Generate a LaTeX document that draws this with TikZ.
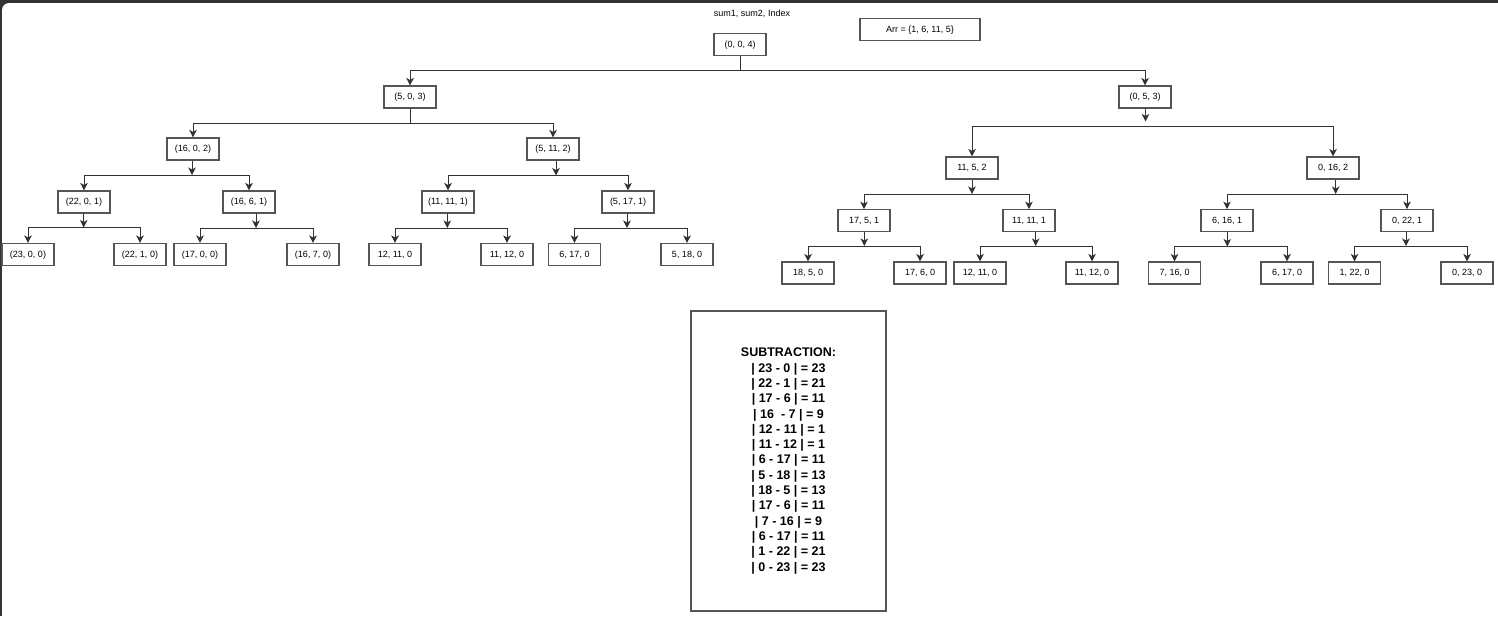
\documentclass[tikz,border=0pt]{standalone}
\usepackage{fontspec}
\setmainfont{Liberation Sans}
\usetikzlibrary{arrows.meta}
\definecolor{framecol}{RGB}{51,51,51}
\definecolor{boxline}{RGB}{85,85,85}
\definecolor{conncol}{RGB}{50,50,50}
\begin{document}
\begin{tikzpicture}[x=1pt,y=-1pt,
  box/.style={draw=boxline, line width=1.1pt, fill=white, minimum width=52pt, minimum height=22pt, inner sep=0pt, text height=6.5pt, text depth=1.5pt, font=\fontsize{9}{11}\selectfont},
  line/.style={draw=conncol, line width=1pt},
  arr/.style={line, -{Stealth[length=7.5pt,width=7.5pt,inset=2pt]}},
  subbox/.style={draw=boxline, line width=1.1pt, minimum width=195pt, minimum height=300pt, inner sep=0pt, align=center, font=\fontsize{12.5}{15.3}\selectfont\bfseries},
]
\useasboundingbox (0,0) rectangle (1498,616);
\fill[framecol] (0,0) rectangle (1498,616);
\fill[white, rounded corners=7pt] (2,3) rectangle (1530,650);

% header
\node[font=\fontsize{9}{11}\selectfont] (title) at (752,14) {sum1, sum2, Index};
\node[box, minimum width=120pt] (arrbox) at (920,29.5) {Arr = \{1, 6, 11, 5\}};

% nodes
\node[box] (root) at (740,44.5) {(0, 0, 4)};
\node[box] (a) at (410,97) {(5, 0, 3)};
\node[box] (b) at (1145,97) {(0, 5, 3)};

\node[box] (aa) at (193,149) {(16, 0, 2)};
\node[box] (ab) at (553,149) {(5, 11, 2)};
\node[box] (aaa) at (84,202) {(22, 0, 1)};
\node[box] (aab) at (249,202) {(16, 6, 1)};
\node[box] (aba) at (448,202) {(11, 11, 1)};
\node[box] (abb) at (628,202) {(5, 17, 1)};
\node[box] (l1) at (28,254.5) {(23, 0, 0)};
\node[box] (l2) at (140,254.5) {(22, 1, 0)};
\node[box] (l3) at (200,254.5) {(17, 0, 0)};
\node[box] (l4) at (313,254.5) {(16, 7, 0)};
\node[box] (l5) at (395,254.5) {12, 11, 0};
\node[box] (l6) at (507,254.5) {11, 12, 0};
\node[box] (l7) at (574.5,254.5) {6, 17, 0};
\node[box] (l8) at (687,254.5) {5, 18, 0};

\node[box] (ba) at (972,168) {11, 5, 2};
\node[box] (bb) at (1333,168) {0, 16, 2};
\node[box] (baa) at (864,220.7) {17, 5, 1};
\node[box] (bab) at (1029,220.7) {11, 11, 1};
\node[box] (bba) at (1227,220.7) {6, 16, 1};
\node[box] (bbb) at (1407,220.7) {0, 22, 1};
\node[box] (r1) at (808,273) {18, 5, 0};
\node[box] (r2) at (920,273) {17, 6, 0};
\node[box] (r3) at (980,273) {12, 11, 0};
\node[box] (r4) at (1092,273) {11, 12, 0};
\node[box] (r5) at (1174.5,273) {7, 16, 0};
\node[box] (r6) at (1287,273) {6, 17, 0};
\node[box] (r7) at (1354.5,273) {1, 22, 0};
\node[box] (r8) at (1467,273) {0, 23, 0};

% junctions
\coordinate (j0) at (740,70.7);
\coordinate (ja) at (410,123.3);
\coordinate (jb) at (1145.5,126.5);
\coordinate (jaa) at (192,175);
\coordinate (jab) at (556,175.5);
\coordinate (jaaa) at (83.7,227.5);
\coordinate (jaab) at (256,228);
\coordinate (jaba) at (447.3,228);
\coordinate (jabb) at (627,228);
\coordinate (jba) at (972,194);
\coordinate (jbb) at (1335.7,194);
\coordinate (jbaa) at (864.3,246);
\coordinate (jbab) at (1035.7,246);
\coordinate (jbba) at (1227.3,246.5);
\coordinate (jbbb) at (1406,246);

% connectors without junction arrow
\draw[line] (root.south -| j0) -- (j0);
\draw[arr] (j0) -| (a.north);
\draw[arr] (j0) -| (b.north);
\draw[line] (a.south -| ja) -- (ja);
\draw[arr] (ja) -| (aa.north);
\draw[arr] (ja) -| (ab.north);

% connectors with junction arrow
\draw[arr] (b.south -| jb) -- ([yshift=5pt]jb);
\draw[arr] (jb) -| (ba.north);
\draw[arr] (jb) -| (bb.north);

\draw[arr] (aa.south -| jaa) -- (jaa);
\draw[arr] (jaa) -| (aaa.north);
\draw[arr] (jaa) -| (aab.north);
\draw[arr] (ab.south -| jab) -- (jab);
\draw[arr] (jab) -| (aba.north);
\draw[arr] (jab) -| (abb.north);

\draw[arr] (aaa.south -| jaaa) -- (jaaa);
\draw[arr] (jaaa) -| (l1.north);
\draw[arr] (jaaa) -| (l2.north);
\draw[arr] (aab.south -| jaab) -- (jaab);
\draw[arr] (jaab) -| (l3.north);
\draw[arr] (jaab) -| (l4.north);
\draw[arr] (aba.south -| jaba) -- (jaba);
\draw[arr] (jaba) -| (l5.north);
\draw[arr] (jaba) -| (l6.north);
\draw[arr] (abb.south -| jabb) -- (jabb);
\draw[arr] (jabb) -| (l7.north);
\draw[arr] (jabb) -| (l8.north);

\draw[arr] (ba.south -| jba) -- (jba);
\draw[arr] (jba) -| (baa.north);
\draw[arr] (jba) -| (bab.north);
\draw[arr] (bb.south -| jbb) -- (jbb);
\draw[arr] (jbb) -| (bba.north);
\draw[arr] (jbb) -| (bbb.north);

\draw[arr] (baa.south -| jbaa) -- (jbaa);
\draw[arr] (jbaa) -| (r1.north);
\draw[arr] (jbaa) -| (r2.north);
\draw[arr] (bab.south -| jbab) -- (jbab);
\draw[arr] (jbab) -| (r3.north);
\draw[arr] (jbab) -| (r4.north);
\draw[arr] (bba.south -| jbba) -- (jbba);
\draw[arr] (jbba) -| (r5.north);
\draw[arr] (jbba) -| (r6.north);
\draw[arr] (bbb.south -| jbbb) -- (jbbb);
\draw[arr] (jbbb) -| (r7.north);
\draw[arr] (jbbb) -| (r8.north);

% subtraction box
\node[subbox] (sub) at (788.5,461) {SUBTRACTION:\\
| 23 - 0 | = 23\\
| 22 - 1 | = 21\\
| 17 - 6 | = 11\\
| 16\ \ - 7 | = 9\\
| 12 - 11 | = 1\\
| 11 - 12 | = 1\\
| 6 - 17 | = 11\\
| 5 - 18 | = 13\\
| 18 - 5 | = 13\\
| 17 - 6 | = 11\\
| 7 - 16 | = 9\\
| 6 - 17 | = 11\\
| 1 - 22 | = 21\\
| 0 - 23 | = 23};
\end{tikzpicture}
\end{document}
